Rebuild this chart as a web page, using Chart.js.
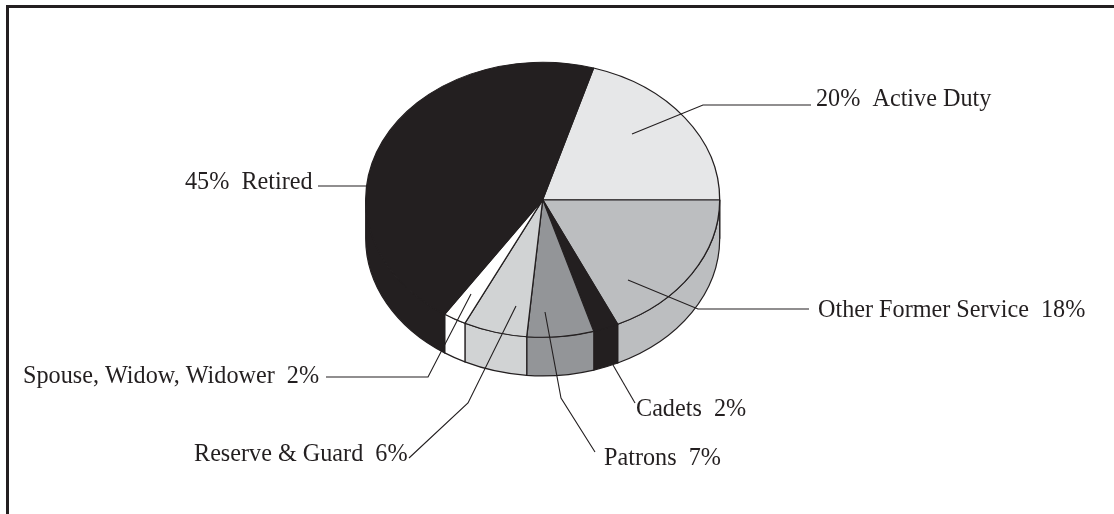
<!DOCTYPE html>
<html>
<head>
<meta charset="utf-8">
<script src="https://cdn.jsdelivr.net/npm/chart.js@4"></script>
<style>
  html, body { margin: 0; padding: 0; background: #fff; overflow: hidden; }
  #wrap { position: relative; width: 1114px; height: 514px; }
  #frame { position: absolute; left: 6px; top: 5px; right: 0; bottom: 0; border-top: 3px solid #231f20; border-left: 3px solid #231f20; }
  canvas { position: absolute; left: 0; top: 0; }
</style>
</head>
<body>
<div id="wrap">
  <div id="frame"></div>
  <canvas id="chart" width="1114" height="514"></canvas>
</div>
<script>
// Slice order is clockwise starting from the Active Duty slice
const categories = ['Active Duty', 'Other Former Service', 'Cadets', 'Patrons', 'Reserve & Guard', 'Spouse, Widow, Widower', 'Retired'];
// Shares as drawn in the picture (the printed percentages are rounder)
const sliceShares = [20.4, 18.0, 2.3, 6.1, 5.8, 2.1, 45.3];
const printedLabels = ['20%  Active Duty', 'Other Former Service  18%', 'Cadets  2%', 'Patrons  7%', 'Reserve & Guard  6%', 'Spouse, Widow, Widower  2%', '45%  Retired'];
const sliceColors = ['#e6e7e8', '#bcbec0', '#231f20', '#939598', '#d1d3d4', '#ffffff', '#231f20'];

const INK = '#231f20';
const CENTER_X = 542.7;
const CENTER_Y = 199.7;
const RADIUS_X = 177;
const RADIUS_Y = 137.5;
const DEPTH = 38.7;

// Label anchors and leader line routes, in page pixels
const labelPlaces = [
  { x: 816, y: 106, line: [[632, 134], [703, 105], [811, 105]] },
  { x: 818, y: 317, line: [[628, 280], [698, 309], [809, 309]] },
  { x: 636, y: 416, line: [[613, 365], [635, 403]] },
  { x: 604, y: 465, line: [[545, 312], [561, 398], [595, 452]] },
  { x: 194, y: 461, line: [[516, 306], [468, 403], [409, 458]] },
  { x: 23, y: 383, line: [[471, 294], [428, 377], [326, 377]] },
  { x: 185, y: 189, line: [[318, 186], [366, 186]] }
];

// Squashes the round pie into an ellipse and builds the side wall under it
const tiltedPie = {
  id: 'tiltedPie',
  beforeDatasetsDraw(chart) {
    const ctx = chart.ctx;
    const arcs = chart.getDatasetMeta(0).data;
    ctx.save();
    ctx.lineWidth = 1.2;
    ctx.strokeStyle = INK;
    arcs.forEach((arc, i) => {
      const from = Math.max(arc.startAngle, 0);
      const to = Math.min(arc.endAngle, Math.PI);
      if (to <= from) return;
      ctx.beginPath();
      ctx.ellipse(CENTER_X, CENTER_Y, RADIUS_X, RADIUS_Y, 0, from, to);
      ctx.ellipse(CENTER_X, CENTER_Y + DEPTH, RADIUS_X, RADIUS_Y, 0, to, from, true);
      ctx.closePath();
      ctx.fillStyle = sliceColors[i];
      ctx.fill();
      ctx.stroke();
    });
    ctx.restore();

    ctx.save();
    ctx.translate(CENTER_X, CENTER_Y);
    ctx.scale(1, RADIUS_Y / RADIUS_X);
    ctx.translate(-CENTER_X, -CENTER_Y);
  },
  afterDatasetsDraw(chart) {
    chart.ctx.restore();
  }
};

// Leader lines and printed labels
const leaderLabels = {
  id: 'leaderLabels',
  afterDraw(chart) {
    const ctx = chart.ctx;
    ctx.save();
    ctx.strokeStyle = INK;
    ctx.fillStyle = INK;
    ctx.lineWidth = 1.1;
    ctx.font = '24.2px "Liberation Serif"';
    ctx.textBaseline = 'alphabetic';
    labelPlaces.forEach((place, i) => {
      ctx.beginPath();
      place.line.forEach((p, j) => {
        if (j === 0) ctx.moveTo(p[0], p[1]);
        else ctx.lineTo(p[0], p[1]);
      });
      ctx.stroke();
      ctx.fillText(printedLabels[i], place.x, place.y);
    });
    ctx.restore();
  }
};

new Chart(document.getElementById('chart'), {
  type: 'pie',
  data: {
    labels: categories,
    datasets: [{
      data: sliceShares,
      backgroundColor: sliceColors,
      borderColor: INK,
      borderWidth: 1.3,
      clip: false
    }]
  },
  options: {
    responsive: false,
    animation: false,
    rotation: 16.7,
    radius: RADIUS_X,
    layout: {
      padding: {
        left: CENTER_X - RADIUS_X,
        right: 1114 - CENTER_X - RADIUS_X,
        top: CENTER_Y - RADIUS_X,
        bottom: 514 - CENTER_Y - RADIUS_X
      }
    },
    plugins: {
      legend: { display: false },
      tooltip: { enabled: false }
    }
  },
  plugins: [tiltedPie, leaderLabels]
});
</script>
</body>
</html>
